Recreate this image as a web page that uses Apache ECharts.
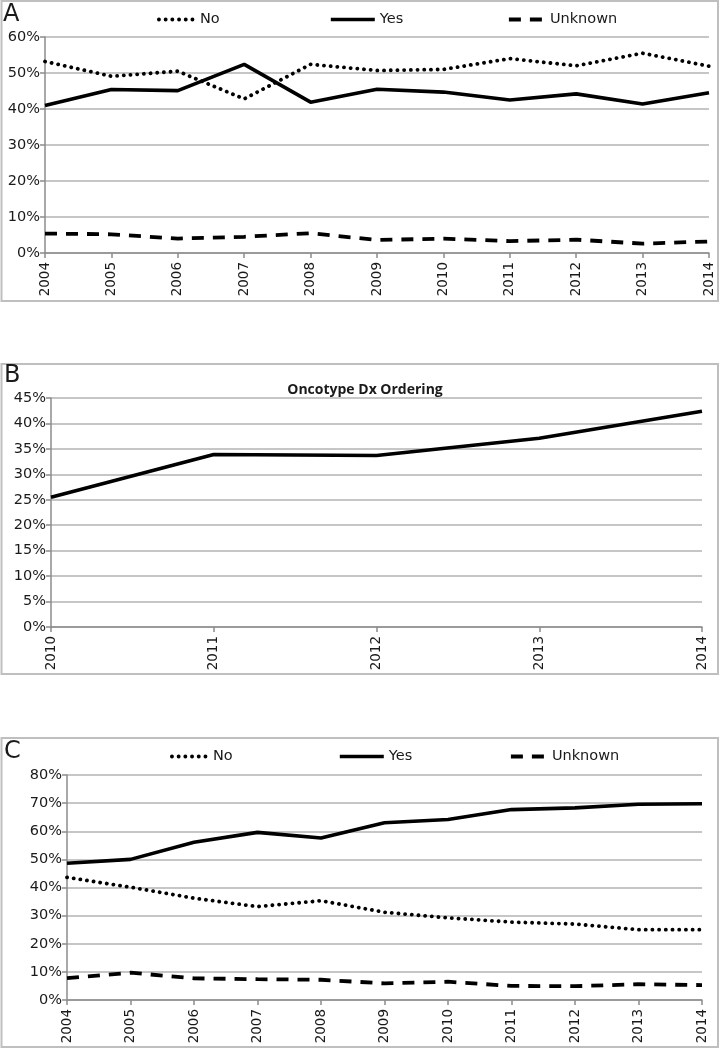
<!DOCTYPE html>
<html>
<head>
<meta charset="utf-8">
<script src="https://cdn.jsdelivr.net/npm/echarts@6/dist/echarts.min.js"></script>
<style>
html,body{margin:0;padding:0;background:#fff;}
#chart{width:720px;height:1050px;}
</style>
</head>
<body>
<div id="chart"></div>
<script>
// ---- Data ----
const yearsA = ['2004','2005','2006','2007','2008','2009','2010','2011','2012','2013','2014'];
const noA      = [53.2, 49.1, 50.5, 42.8, 52.4, 50.7, 51.0, 54.0, 52.0, 55.5, 51.9];
const yesA     = [41.0, 45.4, 45.1, 52.4, 41.9, 45.5, 44.7, 42.5, 44.2, 41.4, 44.5];
const unknownA = [5.4, 5.2, 4.0, 4.5, 5.5, 3.6, 4.0, 3.3, 3.7, 2.6, 3.2];

const yearsB = ['2010','2011','2012','2013','2014'];
const oncotypeB = [25.5, 33.9, 33.7, 37.1, 42.4];

const yearsC = ['2004','2005','2006','2007','2008','2009','2010','2011','2012','2013','2014'];
const noC      = [43.6, 40.1, 36.2, 33.2, 35.3, 31.2, 29.2, 27.7, 27.0, 25.0, 25.0];
const yesC     = [48.6, 50.0, 56.1, 59.6, 57.6, 63.0, 64.2, 67.7, 68.3, 69.6, 69.8];
const unknownC = [7.8, 9.7, 7.7, 7.4, 7.2, 5.9, 6.5, 5.0, 4.9, 5.6, 5.3];

const titleB = 'Oncotype Dx Ordering';
const legendNames = ['No', 'Yes', 'Unknown'];

// ---- Styles ----
const FONT = 'DejaVu Sans';
const TXT = '#1a1a1a';
const GRID_C = '#b3b3b3';
const AXIS_C = '#8c8c8c';

const styleNo = {color:'#000', width:3.8, type:[0.1, 6.6], cap:'round'};
const styleYes = {color:'#000', width:3.6, type:'solid'};
const styleUnk = {color:'#000', width:3.8, type:[12, 9], cap:'butt'};

function xAxis(gridIndex, data){
  return {
    type:'category', gridIndex, data, boundaryGap:false,
    axisLine:{show:true, lineStyle:{color:AXIS_C, width:1.5}},
    axisTick:{show:true, length:5, lineStyle:{color:AXIS_C, width:1.5}, alignWithLabel:true},
    axisLabel:{rotate:90, margin:9, fontFamily:FONT, fontSize:13.5, color:TXT, interval:0},
    splitLine:{show:false}
  };
}
function yAxis(gridIndex, max, interval){
  return {
    type:'value', gridIndex, min:0, max, interval,
    axisLine:{show:true, lineStyle:{color:AXIS_C, width:1.5}},
    axisTick:{show:true, length:5, lineStyle:{color:AXIS_C, width:1.5}},
    axisLabel:{formatter:'{value}%', margin:5, fontFamily:FONT, fontSize:14.5, color:TXT},
    splitLine:{show:true, lineStyle:{color:GRID_C, width:1.5}}
  };
}
function line(name, data, xi, style){
  return {
    name, type:'line', data, xAxisIndex:xi, yAxisIndex:xi,
    symbol:'none', showSymbol:false, smooth:false,
    lineStyle:style, itemStyle:{color:'#000'}, emphasis:{disabled:true},
    animation:false
  };
}
function legend(name, left, top, w, style){
  return {
    data:[name], left, top, itemWidth:w, itemHeight:14, selectedMode:false,
    itemStyle:{color:'rgba(0,0,0,0)', borderWidth:0, opacity:0},
    lineStyle:{color:'#000', width:style.width, type:style.type, cap:style.cap || 'butt'},
    textStyle:{fontFamily:FONT, fontSize:14.5, color:TXT}, padding:0
  };
}

const chart = echarts.init(document.getElementById('chart'), null, {renderer:'canvas'});
chart.setOption({
  animation:false,
  backgroundColor:'#fff',
  title:{
    text:titleB, left:360, top:378, textAlign:'center',
    textStyle:{fontFamily:'Open Sans', fontWeight:'bold', fontSize:14, color:TXT}
  },
  grid:[
    {left:45, top:37, width:664, height:216},
    {left:51, top:398, width:651, height:229},
    {left:67, top:775, width:635, height:225}
  ],
  xAxis:[xAxis(0, yearsA), xAxis(1, yearsB), xAxis(2, yearsC)],
  yAxis:[yAxis(0, 60, 10), yAxis(1, 45, 5), yAxis(2, 80, 10)],
  legend:[
    legend(legendNames[0], 157, 12, 36, styleNo),
    legend(legendNames[1], 329, 12, 44, styleYes),
    legend(legendNames[2], 507, 12, 36, styleUnk),
    legend(legendNames[0], 170, 749, 36, styleNo),
    legend(legendNames[1], 338, 749, 44, styleYes),
    legend(legendNames[2], 509, 749, 36, styleUnk)
  ],
  series:[
    line(legendNames[0], noA, 0, styleNo),
    line(legendNames[1], yesA, 0, styleYes),
    line(legendNames[2], unknownA, 0, styleUnk),
    line(titleB, oncotypeB, 1, styleYes),
    line(legendNames[0], noC, 2, styleNo),
    line(legendNames[1], yesC, 2, styleYes),
    line(legendNames[2], unknownC, 2, styleUnk)
  ],
  graphic:[
    {type:'rect', shape:{x:1.5, y:1, width:716.5, height:300}, style:{fill:'none', stroke:'#bfbfbf', lineWidth:2}, silent:true},
    {type:'rect', shape:{x:1.5, y:364, width:716.5, height:310}, style:{fill:'none', stroke:'#bfbfbf', lineWidth:2}, silent:true},
    {type:'rect', shape:{x:1.5, y:738, width:716.5, height:309}, style:{fill:'none', stroke:'#bfbfbf', lineWidth:2}, silent:true},
    {type:'text', left:3, top:3, style:{text:'A', fontFamily:FONT, fontSize:24, fill:TXT}, silent:true},
    {type:'text', left:4, top:364, style:{text:'B', fontFamily:FONT, fontSize:24, fill:TXT}, silent:true},
    {type:'text', left:4, top:740, style:{text:'C', fontFamily:FONT, fontSize:24, fill:TXT}, silent:true}
  ]
});
</script>
</body>
</html>
